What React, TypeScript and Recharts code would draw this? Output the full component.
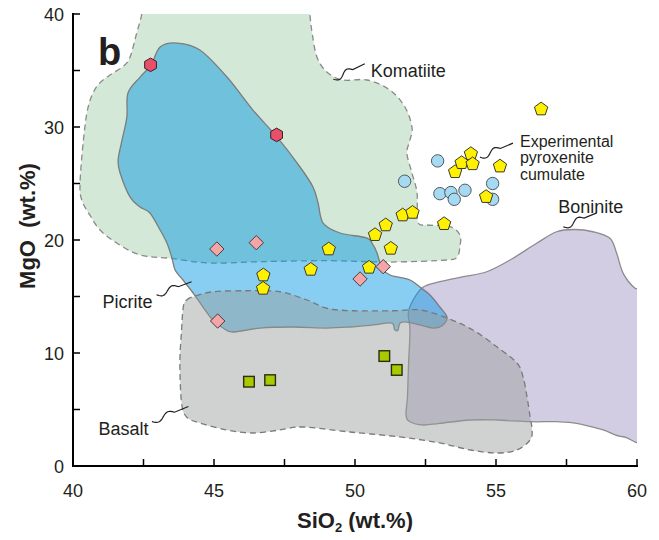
import React from 'react';
import { ScatterChart, Scatter, XAxis, YAxis } from 'recharts';

const FONT = '"Liberation Sans", Arial, Helvetica, sans-serif';

const xTicks = [40, 42.5, 45, 47.5, 50, 52.5, 55, 57.5, 60];
const yTicks = [0, 5, 10, 15, 20, 25, 30, 35, 40];

const toPts = (a: number[][]) => a.map(([x, y]) => ({ x, y }));

const komatiite = toPts([
  [42.44, 40], [42.26, 38.32], [42.02, 36.17], [41.77, 35.34], [41.31, 34.6], [40.84, 33.57],
  [40.54, 31.8], [40.37, 28.85], [40.25, 25.04], [40.31, 23.54], [40.6, 22.2], [40.96, 20.88],
  [41.55, 19.73], [42.38, 18.67], [43.44, 18.38], [44.86, 17.96], [46.63, 18.08], [49.0, 18.17],
  [51.24, 18.05], [53.26, 18.23], [53.62, 18.52], [53.72, 19.38], [53.72, 20.44], [53.37, 21.18],
  [52.55, 21.33], [52.23, 21.6], [52.2, 24.16], [52.02, 25.93], [51.84, 27.7], [51.95, 28.85],
  [52.02, 30.0], [51.77, 31.77], [51.24, 33.27], [50.43, 34.16], [49.57, 34.16], [49.0, 34.87],
  [48.65, 36.2], [48.48, 38.32], [48.4, 40], [48.38, 41.5], [42.5, 41.5],
]);

const picrite = toPts([
  [43.69, 37.43], [44.5, 36.81], [45.46, 34.42], [46.38, 31.5], [47.23, 29.12], [48.05, 26.46],
  [48.51, 24.69], [48.69, 23.27], [48.87, 21.5], [49.47, 20.62], [50.41, 20.18], [50.64, 19.56],
  [50.78, 18.85], [50.89, 17.96], [50.99, 17.35], [51.24, 16.9], [51.49, 16.73], [51.95, 16.46],
  [52.3, 15.84], [52.66, 15.13], [53.01, 14.07], [53.26, 13.19], [53.12, 12.48], [52.77, 12.21],
  [52.3, 12.48], [51.84, 12.74], [51.6, 12.65], [51.52, 12.0], [51.4, 12.1], [51.3, 12.65],
  [50.64, 12.48], [49.82, 12.3], [49.0, 12.21], [47.8, 12.3], [46.63, 12.21], [45.67, 11.86],
  [45.32, 12.21], [44.96, 12.92], [44.61, 14.07], [44.26, 15.31], [43.9, 16.46], [43.62, 17.35],
  [43.51, 18.41], [43.33, 19.73], [43.09, 20.88], [42.73, 22.39], [42.38, 22.92], [42.02, 23.81],
  [41.67, 25.93], [41.6, 27.08], [41.74, 28.85], [41.91, 30.88], [41.95, 33.01], [42.38, 34.42],
  [42.77, 35.49], [43.09, 37.08],
]);

const basalt = toPts([
  [44.03, 14.69], [44.26, 14.98], [44.96, 15.42], [46.17, 15.51], [47.34, 15.42], [48.3, 14.69],
  [49.0, 13.96], [49.93, 13.74], [51.35, 13.74], [52.3, 13.81], [53.26, 13.1], [54.18, 12.04],
  [55.04, 10.53], [55.74, 9.12], [55.96, 7.88], [56.1, 6.11], [56.21, 4.34], [56.28, 3.19],
  [56.21, 2.3], [55.74, 1.42], [55.04, 1.15], [54.08, 1.42], [53.01, 2.04], [51.6, 2.57],
  [49.82, 3.01], [48.16, 3.45], [47.34, 3.19], [46.38, 2.92], [45.46, 3.19], [44.5, 3.81],
  [44.03, 4.34], [43.85, 5.58], [43.79, 9.12], [43.85, 12.04], [43.91, 14.07],
]);

const boninite = toPts([
  [51.95, 12.04], [51.89, 13.51], [52.06, 14.69], [52.42, 15.84], [53.01, 16.31], [53.84, 16.75],
  [54.67, 17.19], [55.5, 18.23], [56.44, 19.71], [57.15, 20.73], [57.8, 20.93], [58.44, 20.73],
  [59.04, 20.15], [59.28, 18.82], [59.51, 17.05], [59.93, 15.73], [60.5, 15.0], [60.5, 3.0],
  [59.51, 2.59], [58.8, 3.19], [57.86, 3.78], [57.15, 3.92], [56.21, 3.92], [55.02, 4.07],
  [54.08, 4.07], [53.01, 3.78], [52.42, 3.63], [51.95, 3.92], [51.81, 4.51], [51.86, 6.13],
  [51.9, 9.09],
]);

const hexagons = toPts([[42.75, 35.5], [47.22, 29.3]]);
const diamonds = toPts([[45.1, 19.2], [46.5, 19.76], [45.13, 12.83], [50.18, 16.55], [51.0, 17.64]]);
const pentagons = toPts([
  [46.75, 16.96], [46.74, 15.78], [48.43, 17.46], [49.07, 19.26], [50.5, 17.64], [50.71, 20.53],
  [51.09, 21.39], [51.27, 19.32], [51.69, 22.27], [52.04, 22.5], [53.16, 21.5], [53.55, 26.1],
  [53.78, 26.9], [54.11, 27.7], [54.17, 26.8], [55.14, 26.6], [54.65, 23.9], [56.6, 31.65],
]);
const circles = toPts([
  [52.93, 27.0], [51.76, 25.2], [53.01, 24.1], [53.4, 24.2], [53.52, 23.6], [53.9, 24.4],
  [54.88, 25.0], [54.88, 23.6],
]);
const squares = toPts([[46.24, 7.46], [46.99, 7.6], [51.04, 9.73], [51.48, 8.5]]);

// annotation anchors (data coords of text start)
const labelB = toPts([[40.89, 35.49]]);
const labelKomatiite = toPts([[50.56, 34.45]]);
const labelExperimental = toPts([[55.85, 28.26]]);
const labelBoninite = toPts([[57.21, 22.36]]);
const labelPicrite = toPts([[41.05, 13.96]]);
const labelBasalt = toPts([[40.9, 2.74]]);

const PLOT = { x: 65, y: 6, w: 564, h: 452 };

function smoothClosed(pts: { x: number; y: number }[]) {
  const n = pts.length;
  if (n < 3) return '';
  let d = `M${pts[0].x},${pts[0].y}`;
  for (let i = 0; i < n; i++) {
    const p0 = pts[(i - 1 + n) % n];
    const p1 = pts[i];
    const p2 = pts[(i + 1) % n];
    const p3 = pts[(i + 2) % n];
    const c1x = p1.x + (p2.x - p0.x) / 6;
    const c1y = p1.y + (p2.y - p0.y) / 6;
    const c2x = p2.x - (p3.x - p1.x) / 6;
    const c2y = p2.y - (p3.y - p1.y) / 6;
    d += `C${c1x},${c1y} ${c2x},${c2y} ${p2.x},${p2.y}`;
  }
  return d + 'Z';
}

const regionLine = (id: string, fill: string, fillOpacity: number, stroke: string, dash?: string) => (props: any) => {
  const pts = props.points || [];
  return (
    <g>
      <defs>
        <clipPath id={`clip-${id}`}>
          <rect x={PLOT.x} y={PLOT.y} width={PLOT.w} height={PLOT.h} />
        </clipPath>
      </defs>
      <path
        d={smoothClosed(pts)}
        clipPath={`url(#clip-${id})`}
        fill={fill}
        fillOpacity={fillOpacity}
        stroke={stroke}
        strokeWidth={1.3}
        strokeDasharray={dash}
      />
    </g>
  );
};

const Empty = () => <g />;

const Hexagon = (p: any) => {
  const r = 6.8;
  const pts = [];
  for (let k = 0; k < 6; k++) {
    const a = (Math.PI / 180) * (-90 + 60 * k);
    pts.push(`${p.cx + r * Math.cos(a)},${p.cy + r * Math.sin(a)}`);
  }
  return <polygon points={pts.join(' ')} fill="#E8506A" stroke="#3b1f24" strokeWidth={1} />;
};
const Diamond = (p: any) => {
  const r = 7.2;
  return (
    <polygon
      points={`${p.cx},${p.cy - r} ${p.cx + r},${p.cy} ${p.cx},${p.cy + r} ${p.cx - r},${p.cy}`}
      fill="#F3A5A8"
      stroke="#4a3a3a"
      strokeWidth={1}
    />
  );
};
const Pentagon = (p: any) => {
  const r = 7;
  const pts = [];
  for (let k = 0; k < 5; k++) {
    const a = (Math.PI / 180) * (-90 + 72 * k);
    pts.push(`${p.cx + r * Math.cos(a)},${p.cy + 0.8 + r * Math.sin(a)}`);
  }
  return <polygon points={pts.join(' ')} fill="#FFF100" stroke="#3a3a2a" strokeWidth={1} />;
};
const Circ = (p: any) => <circle cx={p.cx} cy={p.cy} r={6.2} fill="#A6D9F2" stroke="#4f5a60" strokeWidth={1} />;
const Sq = (p: any) => (
  <rect x={p.cx - 5.3} y={p.cy - 5.3} width={10.6} height={10.6} fill="#A9C900" stroke="#2c2c10" strokeWidth={1.4} />
);

function squigglePath(sx: number, sy: number, ex: number, ey: number) {
  const dx = ex - sx;
  const dy = ey - sy;
  const len = Math.hypot(dx, dy);
  const nx = dy / len;
  const ny = -dx / len;
  const A = 3;
  let d = `M${sx},${sy}`;
  for (let i = 1; i <= 24; i++) {
    const t = (i / 24) * 0.62;
    const off = -A * Math.sin((2 * Math.PI * t) / 0.62);
    d += `L${sx + dx * t + nx * off},${sy + dy * t + ny * off}`;
  }
  d += `L${ex},${ey}`;
  return d;
}

const textLabel = (lines: string[], size: number, lineH: number, sq?: number[], bold?: boolean, color?: string) => (p: any) => {
  const { cx, cy } = p;
  return (
    <g>
      {sq && (
        <path
          d={squigglePath(cx + sq[0], cy + sq[1], cx + sq[2], cy + sq[3])}
          fill="none"
          stroke="#231F20"
          strokeWidth={1.2}
        />
      )}
      {lines.map((l, i) => (
        <text
          key={i}
          x={cx}
          y={cy + i * lineH}
          fontSize={size}
          fontFamily={FONT}
          fontWeight={bold ? 'bold' : 'normal'}
          fill={color || '#231F20'}
        >
          {l}
        </text>
      ))}
    </g>
  );
};

const BottomTick = (p: any) => {
  const { x, y, payload } = p;
  const major = payload.value % 5 === 0;
  return (
    <g>
      <line x1={x} y1={y} x2={x} y2={y - 7} stroke="#000" strokeWidth={1.5} />
      {major && (
        <text x={x} y={y + 31} textAnchor="middle" fontSize={18} fontFamily={FONT} fill="#231F20">
          {payload.value}
        </text>
      )}
    </g>
  );
};
const TopTick = (p: any) => {
  const { x, y } = p;
  return <line x1={x} y1={y} x2={x} y2={y + 7} stroke="#000" strokeWidth={1.5} />;
};
const LeftTick = (p: any) => {
  const { x, y, payload } = p;
  const major = payload.value % 10 === 0;
  return (
    <g>
      <line x1={x} y1={y} x2={x + 7} y2={y} stroke="#000" strokeWidth={1.5} />
      {major && (
        <text x={x - 9} y={y + 6.5} textAnchor="end" fontSize={18} fontFamily={FONT} fill="#231F20">
          {payload.value}
        </text>
      )}
    </g>
  );
};
const RightTick = (p: any) => {
  const { x, y } = p;
  return <line x1={x} y1={y} x2={x - 7} y2={y} stroke="#000" strokeWidth={1.5} />;
};

const axisLine = { stroke: '#000', strokeWidth: 2, strokeLinecap: 'square' as const };

export default function App() {
  return (
    <div style={{ width: 643, height: 524 }}>
      <style>{`.recharts-surface{overflow:visible}`}</style>
      <ScatterChart width={643} height={524} margin={{ top: 6, right: 14, bottom: 0, left: 0 }}>
        <XAxis
          xAxisId="b"
          type="number"
          dataKey="x"
          domain={[40, 60]}
          allowDataOverflow
          ticks={xTicks}
          interval={0}
          height={66}
          axisLine={axisLine}
          tickLine={false}
          tickSize={0}
          tickMargin={0}
          tick={BottomTick}
        />
        <XAxis
          xAxisId="t"
          orientation="top"
          type="number"
          dataKey="x"
          domain={[40, 60]}
          allowDataOverflow
          ticks={xTicks}
          interval={0}
          height={0}
          axisLine={axisLine}
          tickLine={false}
          tickSize={0}
          tickMargin={0}
          tick={TopTick}
        />
        <YAxis
          yAxisId="l"
          type="number"
          dataKey="y"
          domain={[0, 40]}
          allowDataOverflow
          ticks={yTicks}
          interval={0}
          width={65}
          axisLine={axisLine}
          tickLine={false}
          tickSize={0}
          tickMargin={0}
          tick={LeftTick}
        />
        <YAxis
          yAxisId="r"
          orientation="right"
          type="number"
          dataKey="y"
          domain={[0, 40]}
          allowDataOverflow
          ticks={yTicks}
          interval={0}
          width={0}
          axisLine={axisLine}
          tickLine={false}
          tickSize={0}
          tickMargin={0}
          tick={RightTick}
        />

        <Scatter xAxisId="b" yAxisId="l" data={komatiite} isAnimationActive={false} shape={Empty}
          line={regionLine('kom', '#D3E8D6', 1, '#8a8a8a', '6 4')} lineType="joint" />
        <Scatter xAxisId="b" yAxisId="l" data={boninite} isAnimationActive={false} shape={Empty}
          line={regionLine('bon', 'rgb(150,135,190)', 0.42, '#8c8c8c')} lineType="joint" />
        <Scatter xAxisId="b" yAxisId="l" data={picrite} isAnimationActive={false} shape={Empty}
          line={regionLine('pic', 'rgb(0,150,228)', 0.47, '#7c7c7c')} lineType="joint" />
        <Scatter xAxisId="b" yAxisId="l" data={basalt} isAnimationActive={false} shape={Empty}
          line={regionLine('bas', 'rgb(152,156,154)', 0.455, '#7a7a7a', '6 4')} lineType="joint" />

        <Scatter xAxisId="b" yAxisId="l" data={labelB} isAnimationActive={false} shape={textLabel(['b'], 38, 0, undefined, true)} />
        <Scatter xAxisId="b" yAxisId="l" data={labelKomatiite} isAnimationActive={false}
          shape={textLabel(['Komatiite'], 18, 0, [-37.5, 2.5, -6, -13])} />
        <Scatter xAxisId="b" yAxisId="l" data={labelExperimental} isAnimationActive={false}
          shape={textLabel(['Experimental', 'pyroxenite', 'cumulate'], 16, 16.7, [-40, 10.5, -7, -3.5])} />
        <Scatter xAxisId="b" yAxisId="l" data={labelBoninite} isAnimationActive={false}
          shape={textLabel(['Boninite'], 18, 0, [5, 13.5, 38.5, -0.5])} />
        <Scatter xAxisId="b" yAxisId="l" data={labelPicrite} isAnimationActive={false}
          shape={textLabel(['Picrite'], 18, 0, [54, -13.5, 89, -26.5])} />
        <Scatter xAxisId="b" yAxisId="l" data={labelBasalt} isAnimationActive={false}
          shape={textLabel(['Basalt'], 18, 0, [53.5, -13.5, 90, -28.5])} />

        <Scatter xAxisId="b" yAxisId="l" data={squares} isAnimationActive={false} shape={Sq} />
        <Scatter xAxisId="b" yAxisId="l" data={hexagons} isAnimationActive={false} shape={Hexagon} />
        <Scatter xAxisId="b" yAxisId="l" data={diamonds} isAnimationActive={false} shape={Diamond} />
        <Scatter xAxisId="b" yAxisId="l" data={circles} isAnimationActive={false} shape={Circ} />
        <Scatter xAxisId="b" yAxisId="l" data={pentagons} isAnimationActive={false} shape={Pentagon} />

        <text x={347} y={520} textAnchor="middle" fontSize={22} fontWeight="bold" fontFamily={FONT} fill="#231F20">
          SiO<tspan fontSize={13} dy={4}>2</tspan>
          <tspan dy={-4}> (wt.%)</tspan>
        </text>
        <text
          x={27}
          y={218}
          transform="rotate(-90 27 218)"
          textAnchor="middle"
          fontSize={22}
          fontWeight="bold"
          fontFamily={FONT}
          fill="#231F20"
          style={{ whiteSpace: 'pre' }}
        >
          MgO  (wt.%)
        </text>
      </ScatterChart>
    </div>
  );
}
